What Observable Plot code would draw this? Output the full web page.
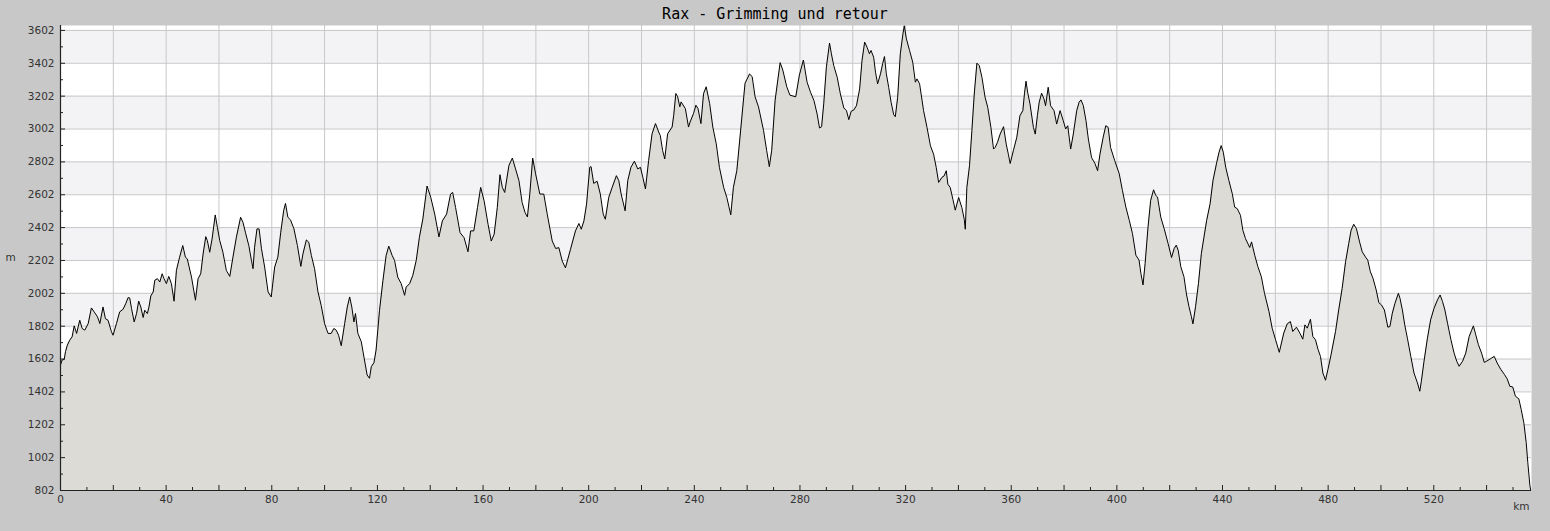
<!DOCTYPE html>
<html>
<head>
<meta charset="utf-8">
<script src="https://cdn.jsdelivr.net/npm/d3@7"></script>
<script src="https://cdn.jsdelivr.net/npm/@observablehq/plot@0.6"></script>
<style>
  html, body { margin: 0; padding: 0; background: #c8c8c8; }
  #title { height: 25px; line-height: 29px; text-align: center; font-family: "DejaVu Sans Mono", monospace; font-size: 15px; color: #000; width: 1550px; overflow: hidden; }
  #chart svg { display: block; }
</style>
</head>
<body>
<div id="title">Rax - Grimming und retour</div>
<div id="chart"></div>
<script>
const km = [0,0.6,1.4,1.9,2.6,3.5,4.4,5.2,6.1,6.7,7.3,8.2,9.2,10.5,11.7,13.0,14.0,14.9,16.1,17.0,18.0,19.3,19.9,21.2,22.4,23.7,24.7,25.6,26.2,26.9,27.9,28.8,29.6,30.4,31.3,31.9,32.9,33.5,34.2,35.1,35.7,36.7,37.6,38.5,39.2,40.1,41.0,42.0,43.0,43.9,45.1,46.3,47.3,48.0,49.6,51.1,52.1,53.1,54.0,55.0,55.6,56.5,57.4,58.6,59.4,60.3,61.5,62.8,64.1,65.3,66.6,68.2,69.1,70.0,71.3,72.3,72.9,73.5,74.4,75.2,76.1,77.3,78.6,79.8,81.1,82.3,83.4,84.5,85.2,86.1,87.1,88.4,89.7,91.0,91.8,93.1,94.0,95.0,96.2,97.5,98.7,100.0,101.3,102.5,103.5,104.4,105.3,106.3,107.6,108.6,109.5,110.3,111.1,111.7,112.6,113.9,115.1,116.1,117.0,117.7,118.7,119.5,120.8,122.1,123.3,124.3,125.6,126.5,127.7,129.0,130.3,130.9,132.2,133.4,134.7,135.9,137.2,138.8,140.2,141.7,143.3,144.6,146.2,147.7,148.5,149.6,151.3,152.8,154.3,155.3,156.5,157.9,159.1,160.4,161.9,163.1,164.2,165.4,166.4,167.3,168.2,169.8,171.1,172.3,173.6,174.8,175.9,176.8,177.7,178.8,179.9,181.5,183.0,184.3,186.2,187.5,188.7,190.0,191.2,193.1,195.0,196.3,197.2,198.2,199.2,200.4,200.9,201.9,203.2,204.4,205.5,206.3,207.6,208.9,210.5,211.4,212.3,213.8,214.8,216.0,217.3,218.6,219.6,220.5,221.5,222.7,224.0,225.3,226.5,227.1,228.0,228.8,229.9,231.6,232.2,233.0,233.7,234.5,235.0,236.6,237.8,238.4,239.7,240.6,241.4,242.5,243.5,244.5,245.8,247.0,248.3,249.5,251.1,252.3,253.8,254.8,256.1,257.3,259.2,260.9,261.9,263.0,264.3,266.2,267.4,268.4,269.3,270.6,272.5,273.5,275.0,276.2,278.4,279.8,281.3,282.7,284.0,285.3,286.5,287.4,288.2,289.0,290.0,291.2,291.9,292.8,294.1,295.3,296.6,297.6,298.5,299.4,300.4,301.4,302.6,303.5,304.5,305.4,306.3,306.9,307.9,308.6,309.4,310.5,311.3,312.0,312.7,313.6,314.5,315.5,316.1,317.0,318.0,319.0,319.5,320.3,321.5,322.7,323.7,324.3,325.3,326.8,328.1,329.4,330.6,331.6,332.5,333.8,334.6,335.4,336.0,336.9,337.9,338.8,340.1,341.3,342.2,342.6,343.2,344.2,345.1,346.0,347.0,347.9,348.9,350.1,351.1,352.3,353.3,353.9,354.8,355.8,357.1,358.1,358.9,359.6,360.8,362.1,363.3,364.4,365.0,365.6,366.2,367.1,368.4,369.1,369.9,370.6,371.5,372.4,373.0,374.0,374.9,376.2,377.2,378.5,379.7,380.6,381.4,382.5,383.5,384.8,385.7,386.4,387.3,388.3,389.2,390.4,391.7,392.7,393.6,394.8,395.8,396.7,397.6,399.2,400.9,402.1,403.4,404.7,405.9,407.2,408.4,409.1,409.9,410.7,411.8,412.8,413.9,414.7,415.4,416.6,417.9,419.4,420.7,421.7,422.5,423.2,424.2,425.4,426.4,427.3,428.2,428.8,429.8,430.9,432.0,433.0,434.0,435.3,436.4,437.7,438.7,439.5,440.3,441.2,442.4,443.7,444.6,445.6,446.8,447.7,448.7,450.3,451.0,452.2,453.4,454.7,455.9,457.6,458.8,460.1,461.5,463.2,464.5,465.7,466.6,468.0,469.3,470.4,471.2,472.1,473.3,474.2,475.2,476.2,477.1,478.0,479.0,479.9,481.1,482.8,484.0,485.3,486.6,487.8,488.7,489.7,490.7,491.9,492.9,494.1,495.0,496.0,497.0,498.2,499.2,500.2,501.3,502.6,503.4,504.3,505.3,506.6,507.2,508.1,509.0,510.0,511.3,512.5,513.8,514.7,515.3,516.3,517.6,518.8,520.1,521.4,522.4,523.3,524.2,525.2,526.5,527.7,528.7,529.6,530.9,532.1,533.4,534.3,535.0,535.9,536.9,538.1,539.1,539.9,540.9,541.9,542.9,544.0,545.3,546.8,547.8,548.8,549.9,550.9,552.2,553.1,554.1,555.0,555.6,556.4,556.7];
const elevation = [1566,1596,1600,1647,1687,1717,1737,1804,1758,1798,1838,1788,1778,1818,1913,1883,1859,1818,1919,1848,1838,1768,1747,1818,1889,1905,1939,1976,1974,1909,1828,1879,1955,1919,1855,1899,1879,1919,1986,2010,2081,2091,2071,2121,2091,2061,2105,2061,1954,2142,2222,2293,2222,2212,2101,1960,2091,2121,2242,2347,2323,2252,2333,2479,2404,2323,2252,2141,2105,2222,2343,2465,2434,2374,2293,2202,2152,2283,2394,2394,2273,2162,2010,1980,2162,2222,2374,2505,2549,2465,2449,2394,2293,2166,2242,2327,2313,2232,2152,2010,1929,1818,1758,1758,1788,1778,1747,1683,1818,1919,1980,1919,1828,1879,1758,1707,1596,1505,1485,1556,1580,1657,1899,2081,2232,2289,2232,2202,2101,2061,1990,2040,2061,2111,2202,2343,2454,2655,2586,2484,2345,2443,2484,2606,2616,2524,2371,2341,2255,2382,2382,2524,2647,2565,2422,2320,2361,2524,2724,2647,2616,2780,2825,2759,2688,2555,2494,2467,2606,2825,2729,2606,2606,2484,2320,2275,2280,2198,2157,2269,2382,2427,2392,2443,2545,2769,2773,2671,2684,2606,2484,2453,2586,2647,2718,2688,2606,2504,2688,2769,2806,2759,2769,2708,2637,2810,2973,3035,2984,2963,2871,2820,2973,3014,3086,3218,3198,3137,3167,3126,3014,3045,3096,3147,3126,3035,3218,3259,3157,3014,2912,2769,2647,2586,2480,2647,2749,2953,3280,3337,3321,3198,3137,2994,2871,2773,2871,3178,3406,3361,3259,3208,3198,3331,3422,3287,3226,3175,3093,3008,3016,3155,3378,3525,3460,3388,3317,3216,3130,3114,3059,3110,3118,3144,3246,3419,3531,3500,3460,3480,3439,3348,3277,3338,3399,3443,3338,3256,3165,3089,3077,3195,3460,3582,3630,3551,3480,3409,3287,3307,3277,3114,3012,2900,2849,2768,2677,2708,2717,2748,2666,2646,2575,2508,2585,2524,2453,2392,2646,2778,2992,3215,3403,3388,3317,3195,3134,3012,2880,2890,2921,2971,3016,2910,2849,2792,2870,2951,3083,3114,3216,3293,3226,3155,3012,2971,3083,3165,3220,3185,3144,3256,3144,3114,3032,3114,3053,3002,3022,2880,2971,3114,3165,3179,3144,3053,2941,2829,2792,2748,2849,2951,3022,3012,2890,2809,2729,2628,2527,2446,2366,2234,2204,2123,2053,2184,2406,2568,2632,2598,2588,2467,2396,2305,2220,2275,2295,2265,2164,2103,1992,1921,1861,1816,1921,2063,2245,2346,2446,2547,2689,2790,2861,2901,2861,2770,2689,2608,2527,2517,2477,2386,2335,2281,2315,2234,2164,2103,2002,1891,1790,1719,1643,1760,1816,1830,1770,1796,1760,1723,1810,1790,1844,1739,1719,1659,1618,1517,1473,1537,1628,1770,1901,2032,2194,2305,2386,2422,2396,2315,2255,2224,2204,2133,2093,2022,1945,1931,1901,1796,1800,1881,1941,2002,1972,1901,1810,1729,1618,1517,1457,1406,1467,1588,1729,1840,1911,1962,1992,1952,1901,1820,1719,1638,1588,1558,1588,1638,1739,1776,1804,1749,1689,1638,1582,1588,1598,1608,1618,1578,1541,1507,1481,1436,1432,1376,1360,1295,1214,1093,972,830,805];

const xDomain = [0, 557];
const yDomain = [802, 3632];
const yTicks = [802,1002,1202,1402,1602,1802,2002,2202,2402,2602,2802,3002,3202,3402,3602];
const yMinorTicks = [902,1102,1302,1502,1702,1902,2102,2302,2502,2702,2902,3102,3302,3502];
const xLabelTicks = [0,40,80,120,160,200,240,280,320,360,400,440,480,520];
const xGridTicks = [0,20,40,60,80,100,120,140,160,180,200,220,240,260,280,300,320,340,360,380,400,420,440,460,480,500,520,540];
const xMinorTicks = [10,30,50,70,90,110,130,150,170,190,210,230,250,270,290,310,330,350,370,390,410,430,450,470,490,510,530,550];
const xUnit = "km";
const yUnit = "m";

const data = km.map((k, i) => ({km: k, m: elevation[i]}));
// shaded bands: every other 200 m interval from 1002 upward, the top one up to the frame edge
const bandEdges = yTicks.slice(1).concat([yDomain[1]]);
const bands = [];
for (let i = 0; i + 1 < bandEdges.length; i += 2) bands.push({y1: bandEdges[i], y2: bandEdges[i + 1]});

const axisColor = "#222";
const textColor = "#333";
const fmt = d => String(d);

const chart = Plot.plot({
  width: 1550,
  height: 506,
  marginTop: 0,
  marginLeft: 60,
  marginRight: 19,
  marginBottom: 41,
  style: {background: "#c8c8c8", fontFamily: "DejaVu Sans, sans-serif", fontSize: "10.5px", color: textColor, overflow: "visible"},
  x: {domain: xDomain, label: null},
  y: {domain: yDomain, label: null},
  marks: [
    Plot.frame({fill: "#ffffff", stroke: null}),
    Plot.rectY(bands, {y1: "y1", y2: "y2", fill: "#f3f2f5"}),
    Plot.ruleY(yTicks, {stroke: "#c8c8c8", strokeWidth: 1}),
    Plot.ruleX(xGridTicks, {stroke: "#c8c8c8", strokeWidth: 1}),
    Plot.areaY(data, {x: "km", y1: yDomain[0], y2: "m", fill: "#dcdbd6"}),
    Plot.lineY(data, {x: "km", y: "m", stroke: "#000", strokeWidth: 1}),
    Plot.ruleX([xDomain[0]], {stroke: axisColor, strokeWidth: 1.2}),
    Plot.ruleY([yDomain[0]], {stroke: axisColor, strokeWidth: 1.2}),
    Plot.axisY(yTicks, {tickSize: -5, text: null, stroke: axisColor, label: null}),
    Plot.axisY(yMinorTicks, {tickSize: -3, text: null, stroke: axisColor, label: null}),
    Plot.axisY(yTicks, {tickSize: 0, tickPadding: 6, fill: textColor, tickFormat: fmt, label: null}),
    Plot.axisX(xGridTicks, {tickSize: -5, text: null, stroke: axisColor, label: null}),
    Plot.axisX(xMinorTicks, {tickSize: -3, text: null, stroke: axisColor, label: null}),
    Plot.axisX(xLabelTicks, {tickSize: 0, tickPadding: 5, fill: textColor, tickFormat: fmt, label: null}),
    Plot.text([yUnit], {frameAnchor: "left", dx: -50, textAnchor: "middle", fill: textColor}),
    Plot.text([xUnit], {frameAnchor: "bottom-right", dx: -2, dy: 19, textAnchor: "end", fill: textColor})
  ]
});
document.getElementById("chart").appendChild(chart);
</script>
</body>
</html>
